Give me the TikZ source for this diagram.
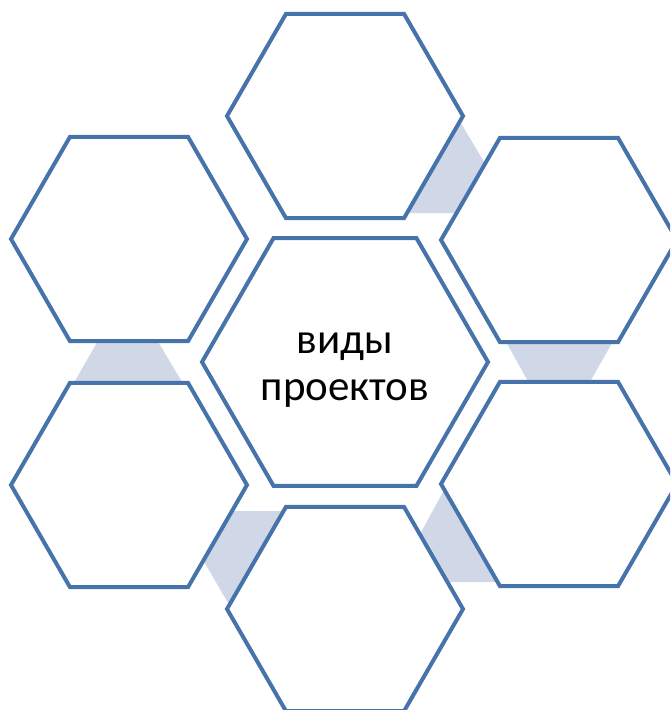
\documentclass[tikz,border=0pt]{standalone}
\usepackage{fontspec}
\setmainfont{Carlito}
\definecolor{hexblue}{HTML}{4773AB}
\definecolor{linkfill}{HTML}{D0D8E8}
\tikzset{
  hexline/.style={draw=hexblue, line width=4pt, fill=white, line join=miter},
  linkpoly/.style={fill=linkfill, draw=none},
  label/.style={font=\fontsize{43}{50}\selectfont, text=black, inner sep=0pt}
}
\begin{document}
\begin{tikzpicture}[x=1pt,y=-1pt]
\useasboundingbox (0,0) rectangle (670,710);
\clip (0,0) rectangle (670,710);
% connectors (behind)
\path[linkpoly] (455,113) -- (490,172) -- (465,213) -- (400,213) -- cycle;
\path[linkpoly] (499.5,330) -- (619.5,330) -- (582.5,395) -- (535.5,395) -- cycle;
\path[linkpoly] (104,330) -- (151,330) -- (190,395) -- (67,395) -- cycle;
\path[linkpoly] (448,483) -- (414,545) -- (440,582) -- (505,582) -- cycle;
\path[linkpoly] (225,511) -- (295,511) -- (235,615) -- (195,546) -- cycle;
% hexagons
\coordinate (ctr) at (345,362);
\coordinate (top) at (345,116);
\coordinate (ul) at (129,239);
\coordinate (ll) at (129,485);
\coordinate (ur) at (559,240);
\coordinate (lr) at (559,484);
\coordinate (bot) at (345,609);
\foreach \c in {top,ul,ll,ur,lr,bot}{
  \draw[hexline, shift={(\c)}] (0:118) -- (60:118) -- (120:118) -- (180:118) -- (240:118) -- (300:118) -- cycle;
}
\draw[hexline, shift={(ctr)}] (0:143) -- (60:143) -- (120:143) -- (180:143) -- (240:143) -- (300:143) -- cycle;
% text
\node[label, anchor=base] (t1) at (345,353) {виды};
\node[label, anchor=base] (t2) at (345,400) {проектов};
\end{tikzpicture}
\end{document}
